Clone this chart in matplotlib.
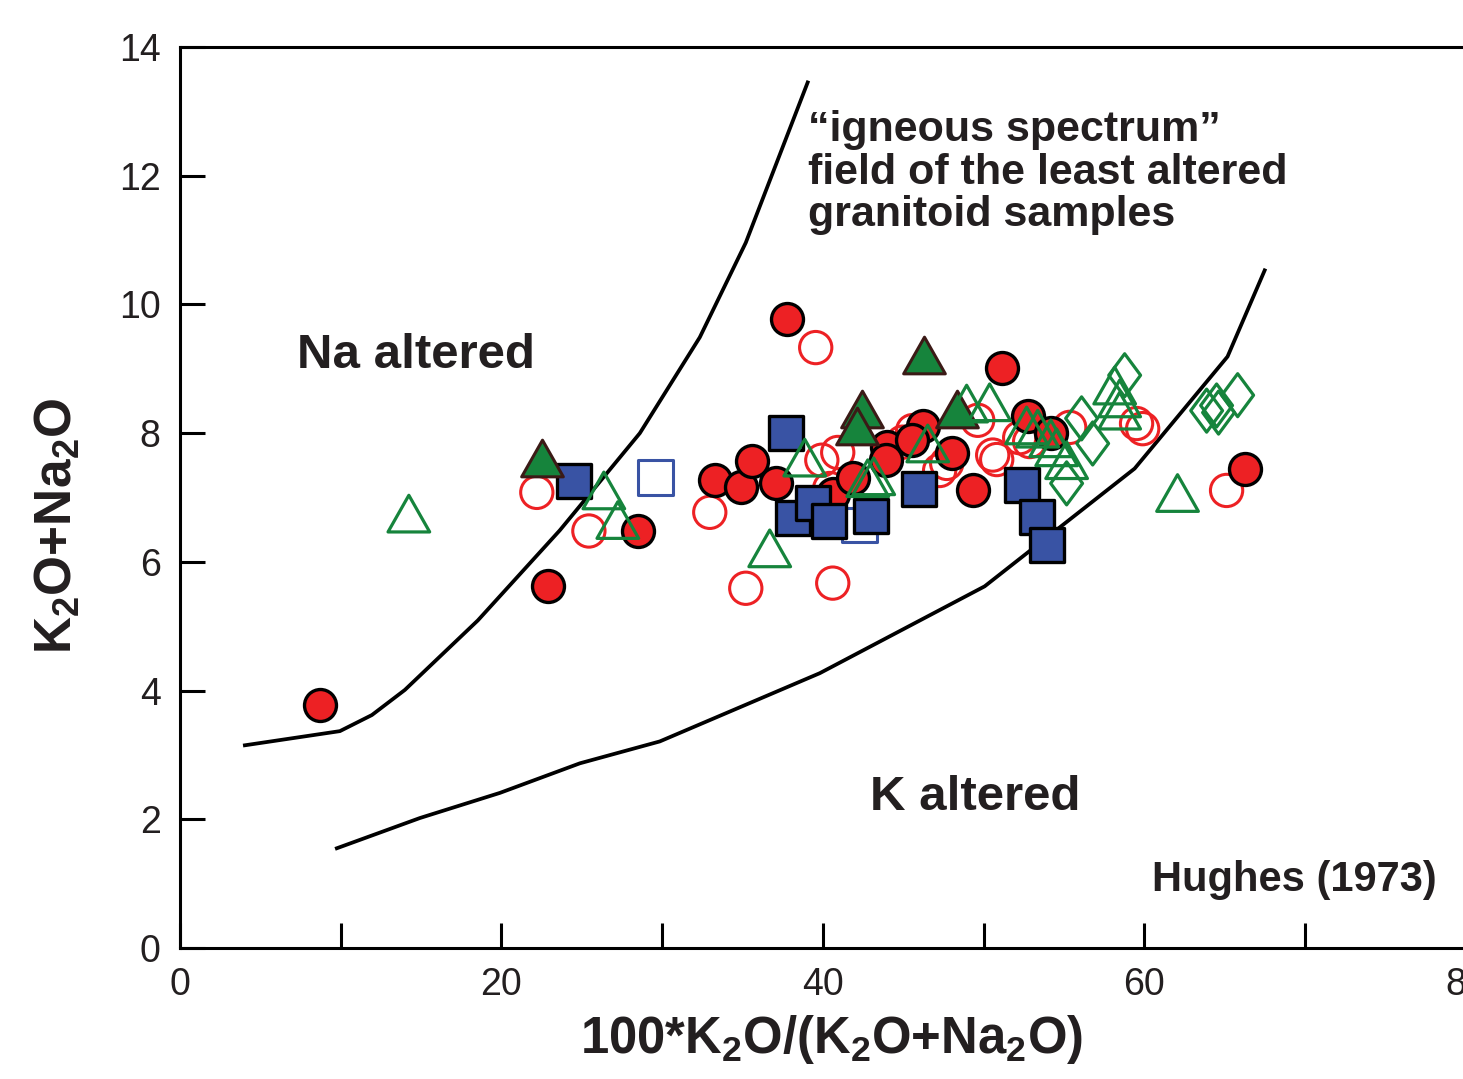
import matplotlib
matplotlib.use("Agg")
import matplotlib.pyplot as plt
from matplotlib.path import Path
import numpy as np

plt.rcParams['font.family'] = ['Liberation Sans', 'DejaVu Sans']
plt.rcParams['mathtext.fontset'] = 'custom'
plt.rcParams['mathtext.rm'] = 'Liberation Sans:bold'
plt.rcParams['mathtext.bf'] = 'Liberation Sans:bold'
plt.rcParams['mathtext.default'] = 'rm'

# batas lapangan "igneous spectrum" (Hughes 1973)
left_x = [4.04, 9.95, 11.94, 13.99, 18.53, 23.63, 28.61, 32.34, 35.20, 39.05]
left_y = [3.15, 3.37, 3.62, 4.01, 5.09, 6.49, 8.00, 9.49, 10.96, 13.45]
right_x = [9.76, 14.93, 19.90, 24.88, 29.85, 39.80, 50.06, 59.39, 65.17, 67.48]
right_y = [1.55, 2.02, 2.41, 2.87, 3.21, 4.27, 5.62, 7.45, 9.19, 10.53]

# lingkaran merah terisi
fc_x = [8.71, 22.89, 28.48, 37.75, 33.27, 34.89, 35.57, 37.06, 40.61, 41.85,
        43.97, 43.91, 46.21, 45.52, 48.01, 49.32, 51.12, 52.74, 54.17, 66.23]
fc_y = [3.77, 5.62, 6.48, 9.78, 7.28, 7.16, 7.56, 7.22, 7.05, 7.31,
        7.78, 7.59, 8.11, 7.89, 7.69, 7.11, 9.01, 8.26, 8.01, 7.44]

# lingkaran merah kosong
oc_x = [22.20, 25.44, 32.96, 35.20, 39.55, 40.61, 39.93, 40.92, 40.42, 45.58,
        44.96, 47.26, 47.70, 49.63, 50.56, 50.81, 52.24, 52.86, 55.35, 59.51,
        59.89, 65.11]
oc_y = [7.08, 6.48, 6.77, 5.59, 9.33, 5.67, 7.58, 7.70, 7.14, 8.04,
        7.86, 7.42, 7.53, 8.20, 7.66, 7.59, 7.93, 7.87, 8.09, 8.15,
        8.07, 7.11]

# kotak biru terisi / kosong
fs_x = [24.50, 37.69, 38.12, 39.37, 40.36, 42.97, 45.96, 52.36, 53.30, 53.92]
fs_y = [7.25, 8.00, 6.68, 6.91, 6.63, 6.72, 7.14, 7.19, 6.69, 6.26]
os_x = [29.60, 42.29]
os_y = [7.31, 6.57]

# segitiga hijau terisi / kosong
ft_x = [22.51, 46.27, 42.41, 42.10, 48.32]
ft_y = [7.62, 9.21, 8.37, 8.11, 8.37]
ot_x = [14.24, 26.37, 27.24, 36.69, 38.87, 42.79, 43.16, 46.52, 48.94, 50.37,
        52.67, 53.36, 54.17, 54.54, 55.16, 58.15, 58.46, 58.46, 62.06]
ot_y = [6.75, 7.11, 6.65, 6.21, 7.62, 7.30, 7.33, 7.84, 8.46, 8.48,
        8.12, 8.07, 7.92, 7.78, 7.58, 8.74, 8.54, 8.35, 7.07]

# belah ketupat hijau kosong
od_x = [58.77, 56.09, 56.78, 55.16, 63.87, 64.49, 64.61, 65.80]
od_y = [8.90, 8.23, 7.84, 7.22, 8.35, 8.43, 8.32, 8.59]

red = '#ED2124'
blue = '#3953A4'
green = '#16843C'
# marker poligon tertutup supaya sudutnya rapat
tri = Path([(0, 0.88), (-1, -0.88), (1, -0.88), (0, 0)], closed=True)
dia = Path([(0, 1), (0.74, 0), (0, -1), (-0.74, 0), (0, 0)], closed=True)

fig = plt.figure(figsize=(14.63, 10.79), dpi=100)
ax = fig.add_axes([0.123, 0.1214, 0.879, 0.835])

ax.plot(left_x, left_y, color='black', lw=2.7, zorder=1)
ax.plot(right_x, right_y, color='black', lw=2.7, zorder=1)

ax.scatter(oc_x, oc_y, s=540, facecolors='none', edgecolors=red, linewidths=2.2, zorder=2)
ax.scatter(os_x, os_y, s=620, marker='s', facecolors='none', edgecolors=blue, linewidths=2.2, zorder=3)
ax.scatter(fc_x, fc_y, s=530, facecolors=red, edgecolors='black', linewidths=2.4, zorder=4)
ax.scatter(fs_x, fs_y, s=630, marker='s', facecolors=blue, edgecolors='black', linewidths=2.4, zorder=5)
ax.scatter(ft_x, ft_y, s=900, marker=tri, facecolors=green, edgecolors='#3B1A16', linewidths=2.2, zorder=6)
ax.scatter(ot_x, ot_y, s=900, marker=tri, facecolors='none', edgecolors=green, linewidths=2.3, zorder=7)
ax.scatter(od_x, od_y, s=960, marker=dia, facecolors='none', edgecolors=green, linewidths=2.3, zorder=8)

ax.text(7.28, 9.21, 'Na altered', fontsize=35.5, fontweight='bold', va='center', color='#231F20')
ax.text(42.9, 2.34, 'K altered', fontsize=35.5, fontweight='bold', va='center', color='#231F20')
ax.text(60.45, 1.06, 'Hughes (1973)', fontsize=30, fontweight='bold', va='center', color='#231F20')
ax.text(39.05, 12.05, '\u201cigneous spectrum\u201d\nfield of the least altered\ngranitoid samples',
        fontsize=31, fontweight='bold', va='center', ha='left', linespacing=1.08, color='#231F20')

ax.set_xlim(0, 80)
ax.set_ylim(0, 14)
ax.set_xticks(np.arange(0, 81, 10))
ax.set_xticklabels(['0', '', '20', '', '40', '', '60', '', '80'])
ax.set_yticks(np.arange(0, 15, 2))
ax.tick_params(direction='in', length=18, width=2.2, labelsize=27, pad=14, colors='black')
ax.tick_params(axis='x', labelcolor='#231F20')
ax.tick_params(axis='y', labelcolor='#231F20')
ax.spines['right'].set_visible(False)
for s in ['left', 'bottom', 'top']:
    ax.spines[s].set_linewidth(2.2)

fig.text(831 / 1463, 1 - 1040 / 1079, '100*K$_2$O/(K$_2$O+Na$_2$O)', fontsize=36.5,
         fontweight='bold', ha='center', va='center', color='#231F20')
fig.text(58 / 1463, 1 - 526 / 1079, 'K$_2$O+Na$_2$O', fontsize=37, fontweight='bold',
         ha='center', va='center', rotation=90, color='#231F20')

fig.savefig('out.png', dpi=100)
